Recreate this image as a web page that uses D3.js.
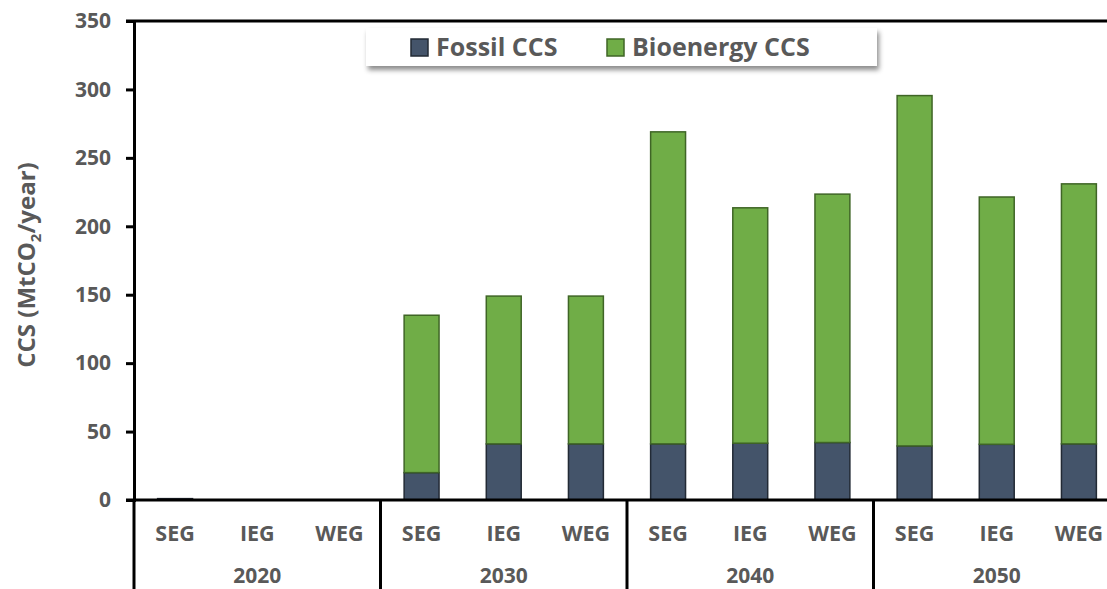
<!DOCTYPE html>
<html><head><meta charset="utf-8">
<script src="https://cdn.jsdelivr.net/npm/d3@7"></script>
<style>body{margin:0;background:#fff;} svg{display:block;}</style>
</head><body>
<svg id="c" width="1107" height="589"></svg>
<script>
const years = ["2020","2030","2040","2050"];
const scenarios = ["SEG","IEG","WEG"];
const fossil =    [1, 0, 0,   20, 41, 41,   41, 41.5, 42,   39.5, 40.7, 41];
const bioenergy = [0, 0, 0,   115, 108, 108,   228, 172, 181.5,   256, 180.7, 190];
const yTicks = [0,50,100,150,200,250,300,350];
const seriesNames = ["Fossil CCS","Bioenergy CCS"];
const colors = ["#44546A","#70AD47"];
const strokes = ["#222a35","#3f6526"];

const svg = d3.select("#c");
const font = "'Open Sans', 'DejaVu Sans', sans-serif";
const grey = "#595959";
const mLeft = 134, mTop = 21, mBottom = 500;
const groupW = 246.5;
const mRight = mLeft + groupW*4;

const cats = [];
years.forEach(yr => scenarios.forEach(s => cats.push(yr+"|"+s)));
const x = d3.scaleBand().domain(cats).range([mLeft, mRight]).paddingInner(0.575).paddingOuter(0.2875);
const y = d3.scaleLinear().domain([0,350]).range([mBottom, mTop]);

const rows = cats.map((c,i)=>({cat:c, fossil:fossil[i], bio:bioenergy[i]}));
const stack = d3.stack().keys(["fossil","bio"])(rows);

stack.forEach((layer, li) => {
  svg.append("g").selectAll("rect").data(layer.filter(d => d[1]-d[0] > 0)).join("rect")
    .attr("x", d => x(d.data.cat))
    .attr("width", x.bandwidth())
    .attr("y", d => y(d[1]))
    .attr("height", d => y(d[0]) - y(d[1]))
    .attr("fill", colors[li])
    .attr("stroke", strokes[li])
    .attr("stroke-width", 1.5);
});

// y axis
const yAxis = svg.append("g").attr("transform", `translate(${mLeft},0)`)
  .call(d3.axisLeft(y).tickValues(yTicks).tickSize(8).tickPadding(15));
yAxis.select(".domain").attr("stroke","#000").attr("stroke-width",3);
yAxis.selectAll(".tick line").attr("stroke","#000").attr("stroke-width",3);
yAxis.selectAll(".tick text").attr("fill",grey).attr("font-family",font).attr("font-weight","bold").attr("font-size",21);

// top border
svg.append("line").attr("x1",mLeft-8).attr("x2",1107).attr("y1",mTop).attr("y2",mTop).attr("stroke","#000").attr("stroke-width",3);

// x axis line
svg.append("line").attr("x1",mLeft-8).attr("x2",1107).attr("y1",mBottom).attr("y2",mBottom).attr("stroke","#000").attr("stroke-width",3);
// left axis extended below
svg.append("line").attr("x1",mLeft).attr("x2",mLeft).attr("y1",mBottom).attr("y2",589).attr("stroke","#000").attr("stroke-width",3);
// group separators
const gx = d3.scaleBand().domain(years).range([mLeft,mRight]);
svg.append("g").selectAll("line").data(years.slice(1)).join("line")
  .attr("x1", d=>gx(d)).attr("x2", d=>gx(d)).attr("y1", mBottom).attr("y2", 589)
  .attr("stroke","#000").attr("stroke-width",3);

// category labels
svg.append("g").selectAll("text").data(cats).join("text")
  .attr("x", d => x(d)+x.bandwidth()/2).attr("y", 541)
  .attr("text-anchor","middle").attr("fill",grey).attr("font-family",font)
  .attr("font-weight","bold").attr("font-size",21.5)
  .text(d => d.split("|")[1]);
svg.append("g").selectAll("text").data(years).join("text")
  .attr("x", d => gx(d)+gx.bandwidth()/2).attr("y", 583)
  .attr("text-anchor","middle").attr("fill",grey).attr("font-family",font)
  .attr("font-weight","bold").attr("font-size",21)
  .text(d => d);

// y label
const yl = svg.append("text").attr("transform","translate(35,265) rotate(-90)")
  .attr("text-anchor","middle").attr("fill",grey).attr("font-family",font)
  .attr("font-weight","bold").attr("font-size",24);
yl.append("tspan").text("CCS (MtCO");
yl.append("tspan").attr("font-size",15).attr("dy",6).text("2");
yl.append("tspan").attr("dy",-6).text("/year)");

// legend
const defs = svg.append("defs");
const f = defs.append("filter").attr("id","sh").attr("x","-5%").attr("y","-30%").attr("width","110%").attr("height","180%");
f.append("feDropShadow").attr("dx",2).attr("dy",4).attr("stdDeviation",2.5).attr("flood-color","#000").attr("flood-opacity",0.45);
svg.append("rect").attr("x",366).attr("y",28).attr("width",511).attr("height",38).attr("fill","#fff").attr("filter","url(#sh)");
const legX = [411, 607];
seriesNames.forEach((n,i) => {
  svg.append("rect").attr("x",legX[i]).attr("y",39).attr("width",17).attr("height",17)
    .attr("fill",colors[i]).attr("stroke",strokes[i]).attr("stroke-width",1.5);
  svg.append("text").attr("x",legX[i]+25).attr("y",56).attr("fill",grey).attr("font-family",font)
    .attr("font-weight","bold").attr("font-size",25).text(n);
});
</script>
</body></html>
